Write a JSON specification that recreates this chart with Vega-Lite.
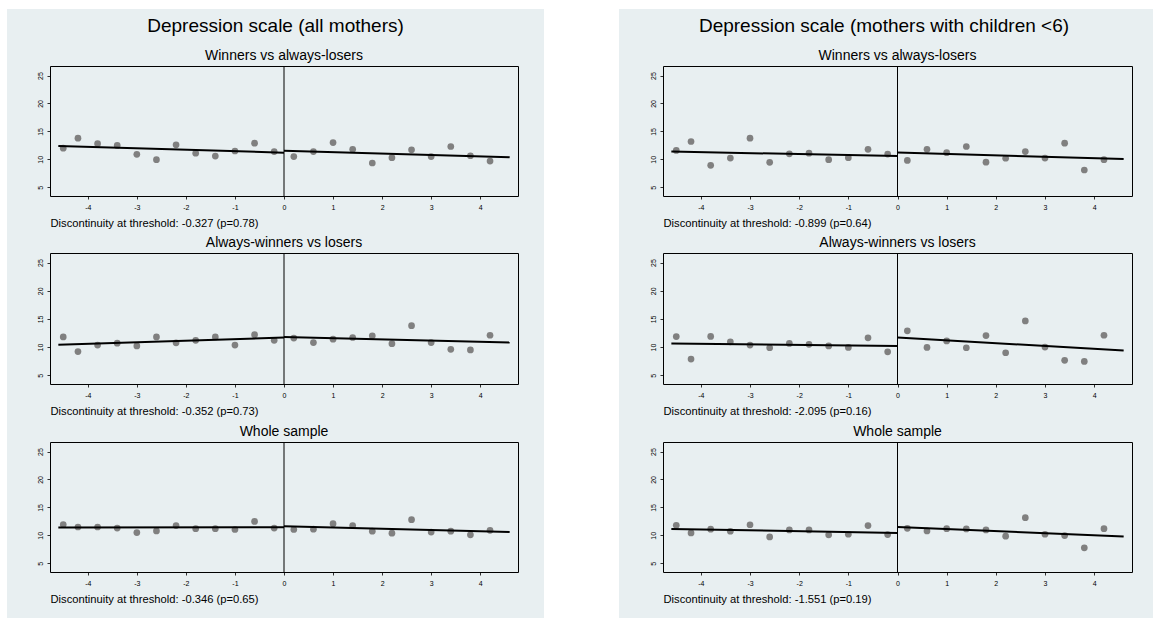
{
"$schema": "https://vega.github.io/schema/vega-lite/v6.json",
"padding": 0,
"background": "#e8eff1",
"columns": 8,
"spacing": 0,
"bounds": "flush",
"config": {
 "view": {"stroke": null},
 "font": "Liberation Sans",
 "axis": {"domain": false, "grid": false, "ticks": true, "tickSize": 3, "tickColor": "black", "tickWidth": 0.8, "labelFont": "Liberation Sans", "labelFontSize": 7, "labelColor": "black", "labelPadding": 4, "labelOverlap": false, "titleFont": "Liberation Sans", "titleFontSize": 11.2, "titleFontWeight": "normal", "titleColor": "black"},
 "axisX": {"titleAnchor": "start", "titleAlign": "left", "titlePadding": 7, "labelFlush": false},
 "title": {"font": "Liberation Sans", "fontSize": 14, "fontWeight": "normal", "color": "black", "offset": 3, "anchor": "middle"}
},
"datasets": {
 "pts": [
  {"p":"A1","x":-4.5,"y":12.0},{"p":"A1","x":-4.2,"y":13.8},{"p":"A1","x":-3.8,"y":12.8},{"p":"A1","x":-3.4,"y":12.5},{"p":"A1","x":-3.0,"y":10.9},{"p":"A1","x":-2.6,"y":9.95},{"p":"A1","x":-2.2,"y":12.6},{"p":"A1","x":-1.8,"y":11.1},{"p":"A1","x":-1.4,"y":10.6},{"p":"A1","x":-1.0,"y":11.5},{"p":"A1","x":-0.6,"y":12.9},{"p":"A1","x":-0.2,"y":11.4},{"p":"A1","x":0.2,"y":10.5},{"p":"A1","x":0.6,"y":11.4},{"p":"A1","x":1.0,"y":13.0},{"p":"A1","x":1.4,"y":11.8},{"p":"A1","x":1.8,"y":9.35},{"p":"A1","x":2.2,"y":10.3},{"p":"A1","x":2.6,"y":11.7},{"p":"A1","x":3.0,"y":10.5},{"p":"A1","x":3.4,"y":12.3},{"p":"A1","x":3.8,"y":10.65},{"p":"A1","x":4.2,"y":9.7},
  {"p":"A2","x":-4.5,"y":11.8},{"p":"A2","x":-4.2,"y":9.2},{"p":"A2","x":-3.8,"y":10.35},{"p":"A2","x":-3.4,"y":10.7},{"p":"A2","x":-3.0,"y":10.2},{"p":"A2","x":-2.6,"y":11.8},{"p":"A2","x":-2.2,"y":10.75},{"p":"A2","x":-1.8,"y":11.2},{"p":"A2","x":-1.4,"y":11.8},{"p":"A2","x":-1.0,"y":10.35},{"p":"A2","x":-0.6,"y":12.2},{"p":"A2","x":-0.2,"y":11.2},{"p":"A2","x":0.2,"y":11.6},{"p":"A2","x":0.6,"y":10.8},{"p":"A2","x":1.0,"y":11.4},{"p":"A2","x":1.4,"y":11.7},{"p":"A2","x":1.8,"y":12.0},{"p":"A2","x":2.2,"y":10.6},{"p":"A2","x":2.6,"y":13.8},{"p":"A2","x":3.0,"y":10.8},{"p":"A2","x":3.4,"y":9.6},{"p":"A2","x":3.8,"y":9.5},{"p":"A2","x":4.2,"y":12.1},
  {"p":"A3","x":-4.5,"y":11.94},{"p":"A3","x":-4.2,"y":11.5},{"p":"A3","x":-3.8,"y":11.5},{"p":"A3","x":-3.4,"y":11.3},{"p":"A3","x":-3.0,"y":10.5},{"p":"A3","x":-2.6,"y":10.8},{"p":"A3","x":-2.2,"y":11.75},{"p":"A3","x":-1.8,"y":11.2},{"p":"A3","x":-1.4,"y":11.2},{"p":"A3","x":-1.0,"y":11.05},{"p":"A3","x":-0.6,"y":12.5},{"p":"A3","x":-0.2,"y":11.3},{"p":"A3","x":0.2,"y":11.05},{"p":"A3","x":0.6,"y":11.1},{"p":"A3","x":1.0,"y":12.1},{"p":"A3","x":1.4,"y":11.75},{"p":"A3","x":1.8,"y":10.75},{"p":"A3","x":2.2,"y":10.4},{"p":"A3","x":2.6,"y":12.8},{"p":"A3","x":3.0,"y":10.6},{"p":"A3","x":3.4,"y":10.75},{"p":"A3","x":3.8,"y":10.1},{"p":"A3","x":4.2,"y":10.9},
  {"p":"B1","x":-4.5,"y":11.6},{"p":"B1","x":-4.2,"y":13.2},{"p":"B1","x":-3.8,"y":8.93},{"p":"B1","x":-3.4,"y":10.24},{"p":"B1","x":-3.0,"y":13.8},{"p":"B1","x":-2.6,"y":9.47},{"p":"B1","x":-2.2,"y":11.0},{"p":"B1","x":-1.8,"y":11.1},{"p":"B1","x":-1.4,"y":9.94},{"p":"B1","x":-1.0,"y":10.3},{"p":"B1","x":-0.6,"y":11.8},{"p":"B1","x":-0.2,"y":10.95},{"p":"B1","x":0.2,"y":9.82},{"p":"B1","x":0.6,"y":11.8},{"p":"B1","x":1.0,"y":11.2},{"p":"B1","x":1.4,"y":12.3},{"p":"B1","x":1.8,"y":9.5},{"p":"B1","x":2.2,"y":10.2},{"p":"B1","x":2.6,"y":11.4},{"p":"B1","x":3.0,"y":10.24},{"p":"B1","x":3.4,"y":12.9},{"p":"B1","x":3.8,"y":8.1},{"p":"B1","x":4.2,"y":9.94},
  {"p":"B2","x":-4.5,"y":11.87},{"p":"B2","x":-4.2,"y":7.88},{"p":"B2","x":-3.8,"y":11.9},{"p":"B2","x":-3.4,"y":10.94},{"p":"B2","x":-3.0,"y":10.35},{"p":"B2","x":-2.6,"y":9.88},{"p":"B2","x":-2.2,"y":10.65},{"p":"B2","x":-1.8,"y":10.5},{"p":"B2","x":-1.4,"y":10.2},{"p":"B2","x":-1.0,"y":9.94},{"p":"B2","x":-0.6,"y":11.65},{"p":"B2","x":-0.2,"y":9.17},{"p":"B2","x":0.2,"y":12.88},{"p":"B2","x":0.6,"y":9.94},{"p":"B2","x":1.0,"y":11.1},{"p":"B2","x":1.4,"y":9.88},{"p":"B2","x":1.8,"y":12.05},{"p":"B2","x":2.2,"y":9.0},{"p":"B2","x":2.6,"y":14.64},{"p":"B2","x":3.0,"y":10.0},{"p":"B2","x":3.4,"y":7.65},{"p":"B2","x":3.8,"y":7.46},{"p":"B2","x":4.2,"y":12.1},
  {"p":"B3","x":-4.5,"y":11.8},{"p":"B3","x":-4.2,"y":10.44},{"p":"B3","x":-3.8,"y":11.1},{"p":"B3","x":-3.4,"y":10.74},{"p":"B3","x":-3.0,"y":11.9},{"p":"B3","x":-2.6,"y":9.73},{"p":"B3","x":-2.2,"y":10.97},{"p":"B3","x":-1.8,"y":10.97},{"p":"B3","x":-1.4,"y":10.1},{"p":"B3","x":-1.0,"y":10.2},{"p":"B3","x":-0.6,"y":11.75},{"p":"B3","x":-0.2,"y":10.14},{"p":"B3","x":0.2,"y":11.27},{"p":"B3","x":0.6,"y":10.8},{"p":"B3","x":1.0,"y":11.2},{"p":"B3","x":1.4,"y":11.15},{"p":"B3","x":1.8,"y":10.97},{"p":"B3","x":2.2,"y":9.85},{"p":"B3","x":2.6,"y":13.17},{"p":"B3","x":3.0,"y":10.2},{"p":"B3","x":3.4,"y":9.97},{"p":"B3","x":3.8,"y":7.77},{"p":"B3","x":4.2,"y":11.2}
 ],
 "lines": [
  {"p":"A1","s":"L","x":-4.6,"y":12.4},{"p":"A1","s":"L","x":0,"y":11.2},{"p":"A1","s":"R","x":0,"y":11.55},{"p":"A1","s":"R","x":4.6,"y":10.4},
  {"p":"A2","s":"L","x":-4.6,"y":10.4},{"p":"A2","s":"L","x":0,"y":11.7},{"p":"A2","s":"R","x":0,"y":11.8},{"p":"A2","s":"R","x":4.6,"y":10.8},
  {"p":"A3","s":"L","x":-4.6,"y":11.4},{"p":"A3","s":"L","x":0,"y":11.45},{"p":"A3","s":"R","x":0,"y":11.65},{"p":"A3","s":"R","x":4.6,"y":10.6},
  {"p":"B1","s":"L","x":-4.6,"y":11.4},{"p":"B1","s":"L","x":0,"y":10.6},{"p":"B1","s":"R","x":0,"y":11.25},{"p":"B1","s":"R","x":4.6,"y":10.05},
  {"p":"B2","s":"L","x":-4.6,"y":10.65},{"p":"B2","s":"L","x":0,"y":10.2},{"p":"B2","s":"R","x":0,"y":11.7},{"p":"B2","s":"R","x":4.6,"y":9.4},
  {"p":"B3","s":"L","x":-4.6,"y":11.15},{"p":"B3","s":"L","x":0,"y":10.44},{"p":"B3","s":"R","x":0,"y":11.5},{"p":"B3","s":"R","x":4.6,"y":9.8}
 ],
 "zero": [{"x": 0}],
 "none": []
},
"concat": [
 {"width":7,"height":9,"data":{"name":"none"},"mark":"point","view":{"fill":"white","stroke":null}},
 {"width":43,"height":9,"data":{"name":"none"},"mark":"point","view":{"fill":"white","stroke":null}},
 {"width":468,"height":9,"data":{"name":"none"},"mark":"point","view":{"fill":"white","stroke":null}},
 {"width":26,"height":9,"data":{"name":"none"},"mark":"point","view":{"fill":"white","stroke":null}},
 {"width":75,"height":9,"data":{"name":"none"},"mark":"point","view":{"fill":"white","stroke":null}},
 {"width":44,"height":9,"data":{"name":"none"},"mark":"point","view":{"fill":"white","stroke":null}},
 {"width":469,"height":9,"data":{"name":"none"},"mark":"point","view":{"fill":"white","stroke":null}},
 {"width":21,"height":9,"data":{"name":"none"},"mark":"point","view":{"fill":"white","stroke":null}},

 {"width":7,"height":57,"data":{"name":"none"},"mark":"point","view":{"fill":"white","stroke":null}},
 {"width":43,"height":57,"data":{"name":"none"},"mark":"point"},
 {"width":468,"height":57,"data":{"name":"none"},"mark":"point","title":{"text":"Depression scale (all mothers)","fontSize":19,"offset":-27,"dx":-8.5}},
 {"width":26,"height":57,"data":{"name":"none"},"mark":"point"},
 {"width":75,"height":57,"data":{"name":"none"},"mark":"point","view":{"fill":"white","stroke":null}},
 {"width":44,"height":57,"data":{"name":"none"},"mark":"point"},
 {"width":469,"height":57,"data":{"name":"none"},"mark":"point","title":{"text":"Depression scale (mothers with children <6)","fontSize":19,"offset":-27,"dx":-13.5}},
 {"width":21,"height":57,"data":{"name":"none"},"mark":"point"},

 {"width":7,"height":130,"data":{"name":"none"},"mark":"point","view":{"fill":"white","stroke":null}},
 {"width":43,"height":130,"data":{"name":"none"},"mark":"point"},
 {"width":468,"height":130,"view":{"stroke":"black","strokeWidth":1},"title":{"text":"Winners vs always-losers"},
  "layer":[
   {"data":{"name":"zero"},"mark":{"type":"rule","color":"black","strokeWidth":1},"encoding":{"x":{"field":"x","type":"quantitative","title":"Discontinuity at threshold: -0.327 (p=0.78)","scale":{"domain":[-4.77,4.77],"nice":false,"zero":false},"axis":{"values":[-4,-3,-2,-1,0,1,2,3,4],"labelOverlap":false,"labelExpr":"datum.value + ''"}}}},
   {"data":{"name":"pts"},"transform":[{"filter":"datum.p === 'A1'"}],"mark":{"type":"circle","size":45,"color":"#808080","opacity":1},
    "encoding":{"x":{"field":"x","type":"quantitative","title":"Discontinuity at threshold: -0.327 (p=0.78)","axis":{"values":[-4,-3,-2,-1,0,1,2,3,4],"labelOverlap":false,"labelExpr":"datum.value + ''"}},
                "y":{"field":"y","type":"quantitative","title":null,"scale":{"domain":[3.45,26.7],"nice":false,"zero":false},"axis":{"values":[5,10,15,20,25],"labelAngle":270,"labelAlign":"center","labelBaseline":"bottom","labelOverlap":false,"labelExpr":"datum.value + ''"}}}},
   {"data":{"name":"lines"},"transform":[{"filter":"datum.p === 'A1'"}],"mark":{"type":"line","color":"black","strokeWidth":2},
    "encoding":{"x":{"field":"x","type":"quantitative","title":"Discontinuity at threshold: -0.327 (p=0.78)","axis":{"values":[-4,-3,-2,-1,0,1,2,3,4],"labelOverlap":false,"labelExpr":"datum.value + ''"}},
                "y":{"field":"y","type":"quantitative","title":null,"axis":{"values":[5,10,15,20,25],"labelAngle":270,"labelAlign":"center","labelBaseline":"bottom","labelOverlap":false,"labelExpr":"datum.value + ''"}},"detail":{"field":"s"}}}
  ]},
 {"width":26,"height":130,"data":{"name":"none"},"mark":"point"},
 {"width":75,"height":130,"data":{"name":"none"},"mark":"point","view":{"fill":"white","stroke":null}},
 {"width":44,"height":130,"data":{"name":"none"},"mark":"point"},
 {"width":469,"height":130,"view":{"stroke":"black","strokeWidth":1},"title":{"text":"Winners vs always-losers"},
  "layer":[
   {"data":{"name":"zero"},"mark":{"type":"rule","color":"black","strokeWidth":1},"encoding":{"x":{"field":"x","type":"quantitative","title":"Discontinuity at threshold: -0.899 (p=0.64)","scale":{"domain":[-4.77,4.77],"nice":false,"zero":false},"axis":{"values":[-4,-3,-2,-1,0,1,2,3,4],"labelOverlap":false,"labelExpr":"datum.value + ''"}}}},
   {"data":{"name":"pts"},"transform":[{"filter":"datum.p === 'B1'"}],"mark":{"type":"circle","size":45,"color":"#808080","opacity":1},
    "encoding":{"x":{"field":"x","type":"quantitative","title":"Discontinuity at threshold: -0.899 (p=0.64)","axis":{"values":[-4,-3,-2,-1,0,1,2,3,4],"labelOverlap":false,"labelExpr":"datum.value + ''"}},
                "y":{"field":"y","type":"quantitative","title":null,"scale":{"domain":[3.45,26.7],"nice":false,"zero":false},"axis":{"values":[5,10,15,20,25],"labelAngle":270,"labelAlign":"center","labelBaseline":"bottom","labelOverlap":false,"labelExpr":"datum.value + ''"}}}},
   {"data":{"name":"lines"},"transform":[{"filter":"datum.p === 'B1'"}],"mark":{"type":"line","color":"black","strokeWidth":2},
    "encoding":{"x":{"field":"x","type":"quantitative","title":"Discontinuity at threshold: -0.899 (p=0.64)","axis":{"values":[-4,-3,-2,-1,0,1,2,3,4],"labelOverlap":false,"labelExpr":"datum.value + ''"}},
                "y":{"field":"y","type":"quantitative","title":null,"axis":{"values":[5,10,15,20,25],"labelAngle":270,"labelAlign":"center","labelBaseline":"bottom","labelOverlap":false,"labelExpr":"datum.value + ''"}},"detail":{"field":"s"}}}
  ]},
 {"width":21,"height":130,"data":{"name":"none"},"mark":"point"},

 {"width":7,"height":57,"data":{"name":"none"},"mark":"point","view":{"fill":"white","stroke":null}},
 {"width":43,"height":57,"data":{"name":"none"},"mark":"point"},
 {"width":468,"height":57,"data":{"name":"none"},"mark":"point"},
 {"width":26,"height":57,"data":{"name":"none"},"mark":"point"},
 {"width":75,"height":57,"data":{"name":"none"},"mark":"point","view":{"fill":"white","stroke":null}},
 {"width":44,"height":57,"data":{"name":"none"},"mark":"point"},
 {"width":469,"height":57,"data":{"name":"none"},"mark":"point"},
 {"width":21,"height":57,"data":{"name":"none"},"mark":"point"},

 {"width":7,"height":131,"data":{"name":"none"},"mark":"point","view":{"fill":"white","stroke":null}},
 {"width":43,"height":131,"data":{"name":"none"},"mark":"point"},
 {"width":468,"height":131,"view":{"stroke":"black","strokeWidth":1},"title":{"text":"Always-winners vs losers"},
  "layer":[
   {"data":{"name":"zero"},"mark":{"type":"rule","color":"black","strokeWidth":1},"encoding":{"x":{"field":"x","type":"quantitative","title":"Discontinuity at threshold: -0.352 (p=0.73)","scale":{"domain":[-4.77,4.77],"nice":false,"zero":false},"axis":{"values":[-4,-3,-2,-1,0,1,2,3,4],"labelOverlap":false,"labelExpr":"datum.value + ''"}}}},
   {"data":{"name":"pts"},"transform":[{"filter":"datum.p === 'A2'"}],"mark":{"type":"circle","size":45,"color":"#808080","opacity":1},
    "encoding":{"x":{"field":"x","type":"quantitative","title":"Discontinuity at threshold: -0.352 (p=0.73)","axis":{"values":[-4,-3,-2,-1,0,1,2,3,4],"labelOverlap":false,"labelExpr":"datum.value + ''"}},
                "y":{"field":"y","type":"quantitative","title":null,"scale":{"domain":[3.45,26.7],"nice":false,"zero":false},"axis":{"values":[5,10,15,20,25],"labelAngle":270,"labelAlign":"center","labelBaseline":"bottom","labelOverlap":false,"labelExpr":"datum.value + ''"}}}},
   {"data":{"name":"lines"},"transform":[{"filter":"datum.p === 'A2'"}],"mark":{"type":"line","color":"black","strokeWidth":2},
    "encoding":{"x":{"field":"x","type":"quantitative","title":"Discontinuity at threshold: -0.352 (p=0.73)","axis":{"values":[-4,-3,-2,-1,0,1,2,3,4],"labelOverlap":false,"labelExpr":"datum.value + ''"}},
                "y":{"field":"y","type":"quantitative","title":null,"axis":{"values":[5,10,15,20,25],"labelAngle":270,"labelAlign":"center","labelBaseline":"bottom","labelOverlap":false,"labelExpr":"datum.value + ''"}},"detail":{"field":"s"}}}
  ]},
 {"width":26,"height":131,"data":{"name":"none"},"mark":"point"},
 {"width":75,"height":131,"data":{"name":"none"},"mark":"point","view":{"fill":"white","stroke":null}},
 {"width":44,"height":131,"data":{"name":"none"},"mark":"point"},
 {"width":469,"height":131,"view":{"stroke":"black","strokeWidth":1},"title":{"text":"Always-winners vs losers"},
  "layer":[
   {"data":{"name":"zero"},"mark":{"type":"rule","color":"black","strokeWidth":1},"encoding":{"x":{"field":"x","type":"quantitative","title":"Discontinuity at threshold: -2.095 (p=0.16)","scale":{"domain":[-4.77,4.77],"nice":false,"zero":false},"axis":{"values":[-4,-3,-2,-1,0,1,2,3,4],"labelOverlap":false,"labelExpr":"datum.value + ''"}}}},
   {"data":{"name":"pts"},"transform":[{"filter":"datum.p === 'B2'"}],"mark":{"type":"circle","size":45,"color":"#808080","opacity":1},
    "encoding":{"x":{"field":"x","type":"quantitative","title":"Discontinuity at threshold: -2.095 (p=0.16)","axis":{"values":[-4,-3,-2,-1,0,1,2,3,4],"labelOverlap":false,"labelExpr":"datum.value + ''"}},
                "y":{"field":"y","type":"quantitative","title":null,"scale":{"domain":[3.45,26.7],"nice":false,"zero":false},"axis":{"values":[5,10,15,20,25],"labelAngle":270,"labelAlign":"center","labelBaseline":"bottom","labelOverlap":false,"labelExpr":"datum.value + ''"}}}},
   {"data":{"name":"lines"},"transform":[{"filter":"datum.p === 'B2'"}],"mark":{"type":"line","color":"black","strokeWidth":2},
    "encoding":{"x":{"field":"x","type":"quantitative","title":"Discontinuity at threshold: -2.095 (p=0.16)","axis":{"values":[-4,-3,-2,-1,0,1,2,3,4],"labelOverlap":false,"labelExpr":"datum.value + ''"}},
                "y":{"field":"y","type":"quantitative","title":null,"axis":{"values":[5,10,15,20,25],"labelAngle":270,"labelAlign":"center","labelBaseline":"bottom","labelOverlap":false,"labelExpr":"datum.value + ''"}},"detail":{"field":"s"}}}
  ]},
 {"width":21,"height":131,"data":{"name":"none"},"mark":"point"},

 {"width":7,"height":58,"data":{"name":"none"},"mark":"point","view":{"fill":"white","stroke":null}},
 {"width":43,"height":58,"data":{"name":"none"},"mark":"point"},
 {"width":468,"height":58,"data":{"name":"none"},"mark":"point"},
 {"width":26,"height":58,"data":{"name":"none"},"mark":"point"},
 {"width":75,"height":58,"data":{"name":"none"},"mark":"point","view":{"fill":"white","stroke":null}},
 {"width":44,"height":58,"data":{"name":"none"},"mark":"point"},
 {"width":469,"height":58,"data":{"name":"none"},"mark":"point"},
 {"width":21,"height":58,"data":{"name":"none"},"mark":"point"},

 {"width":7,"height":130,"data":{"name":"none"},"mark":"point","view":{"fill":"white","stroke":null}},
 {"width":43,"height":130,"data":{"name":"none"},"mark":"point"},
 {"width":468,"height":130,"view":{"stroke":"black","strokeWidth":1},"title":{"text":"Whole sample"},
  "layer":[
   {"data":{"name":"zero"},"mark":{"type":"rule","color":"black","strokeWidth":1},"encoding":{"x":{"field":"x","type":"quantitative","title":"Discontinuity at threshold: -0.346 (p=0.65)","scale":{"domain":[-4.77,4.77],"nice":false,"zero":false},"axis":{"values":[-4,-3,-2,-1,0,1,2,3,4],"labelOverlap":false,"labelExpr":"datum.value + ''"}}}},
   {"data":{"name":"pts"},"transform":[{"filter":"datum.p === 'A3'"}],"mark":{"type":"circle","size":45,"color":"#808080","opacity":1},
    "encoding":{"x":{"field":"x","type":"quantitative","title":"Discontinuity at threshold: -0.346 (p=0.65)","axis":{"values":[-4,-3,-2,-1,0,1,2,3,4],"labelOverlap":false,"labelExpr":"datum.value + ''"}},
                "y":{"field":"y","type":"quantitative","title":null,"scale":{"domain":[3.45,26.7],"nice":false,"zero":false},"axis":{"values":[5,10,15,20,25],"labelAngle":270,"labelAlign":"center","labelBaseline":"bottom","labelOverlap":false,"labelExpr":"datum.value + ''"}}}},
   {"data":{"name":"lines"},"transform":[{"filter":"datum.p === 'A3'"}],"mark":{"type":"line","color":"black","strokeWidth":2},
    "encoding":{"x":{"field":"x","type":"quantitative","title":"Discontinuity at threshold: -0.346 (p=0.65)","axis":{"values":[-4,-3,-2,-1,0,1,2,3,4],"labelOverlap":false,"labelExpr":"datum.value + ''"}},
                "y":{"field":"y","type":"quantitative","title":null,"axis":{"values":[5,10,15,20,25],"labelAngle":270,"labelAlign":"center","labelBaseline":"bottom","labelOverlap":false,"labelExpr":"datum.value + ''"}},"detail":{"field":"s"}}}
  ]},
 {"width":26,"height":130,"data":{"name":"none"},"mark":"point"},
 {"width":75,"height":130,"data":{"name":"none"},"mark":"point","view":{"fill":"white","stroke":null}},
 {"width":44,"height":130,"data":{"name":"none"},"mark":"point"},
 {"width":469,"height":130,"view":{"stroke":"black","strokeWidth":1},"title":{"text":"Whole sample"},
  "layer":[
   {"data":{"name":"zero"},"mark":{"type":"rule","color":"black","strokeWidth":1},"encoding":{"x":{"field":"x","type":"quantitative","title":"Discontinuity at threshold: -1.551 (p=0.19)","scale":{"domain":[-4.77,4.77],"nice":false,"zero":false},"axis":{"values":[-4,-3,-2,-1,0,1,2,3,4],"labelOverlap":false,"labelExpr":"datum.value + ''"}}}},
   {"data":{"name":"pts"},"transform":[{"filter":"datum.p === 'B3'"}],"mark":{"type":"circle","size":45,"color":"#808080","opacity":1},
    "encoding":{"x":{"field":"x","type":"quantitative","title":"Discontinuity at threshold: -1.551 (p=0.19)","axis":{"values":[-4,-3,-2,-1,0,1,2,3,4],"labelOverlap":false,"labelExpr":"datum.value + ''"}},
                "y":{"field":"y","type":"quantitative","title":null,"scale":{"domain":[3.45,26.7],"nice":false,"zero":false},"axis":{"values":[5,10,15,20,25],"labelAngle":270,"labelAlign":"center","labelBaseline":"bottom","labelOverlap":false,"labelExpr":"datum.value + ''"}}}},
   {"data":{"name":"lines"},"transform":[{"filter":"datum.p === 'B3'"}],"mark":{"type":"line","color":"black","strokeWidth":2},
    "encoding":{"x":{"field":"x","type":"quantitative","title":"Discontinuity at threshold: -1.551 (p=0.19)","axis":{"values":[-4,-3,-2,-1,0,1,2,3,4],"labelOverlap":false,"labelExpr":"datum.value + ''"}},
                "y":{"field":"y","type":"quantitative","title":null,"axis":{"values":[5,10,15,20,25],"labelAngle":270,"labelAlign":"center","labelBaseline":"bottom","labelOverlap":false,"labelExpr":"datum.value + ''"}},"detail":{"field":"s"}}}
  ]},
 {"width":21,"height":130,"data":{"name":"none"},"mark":"point"},

 {"width":7,"height":46,"data":{"name":"none"},"mark":"point","view":{"fill":"white","stroke":null}},
 {"width":43,"height":46,"data":{"name":"none"},"mark":"point"},
 {"width":468,"height":46,"data":{"name":"none"},"mark":"point"},
 {"width":26,"height":46,"data":{"name":"none"},"mark":"point"},
 {"width":75,"height":46,"data":{"name":"none"},"mark":"point","view":{"fill":"white","stroke":null}},
 {"width":44,"height":46,"data":{"name":"none"},"mark":"point"},
 {"width":469,"height":46,"data":{"name":"none"},"mark":"point"},
 {"width":21,"height":46,"data":{"name":"none"},"mark":"point"}
]
}
